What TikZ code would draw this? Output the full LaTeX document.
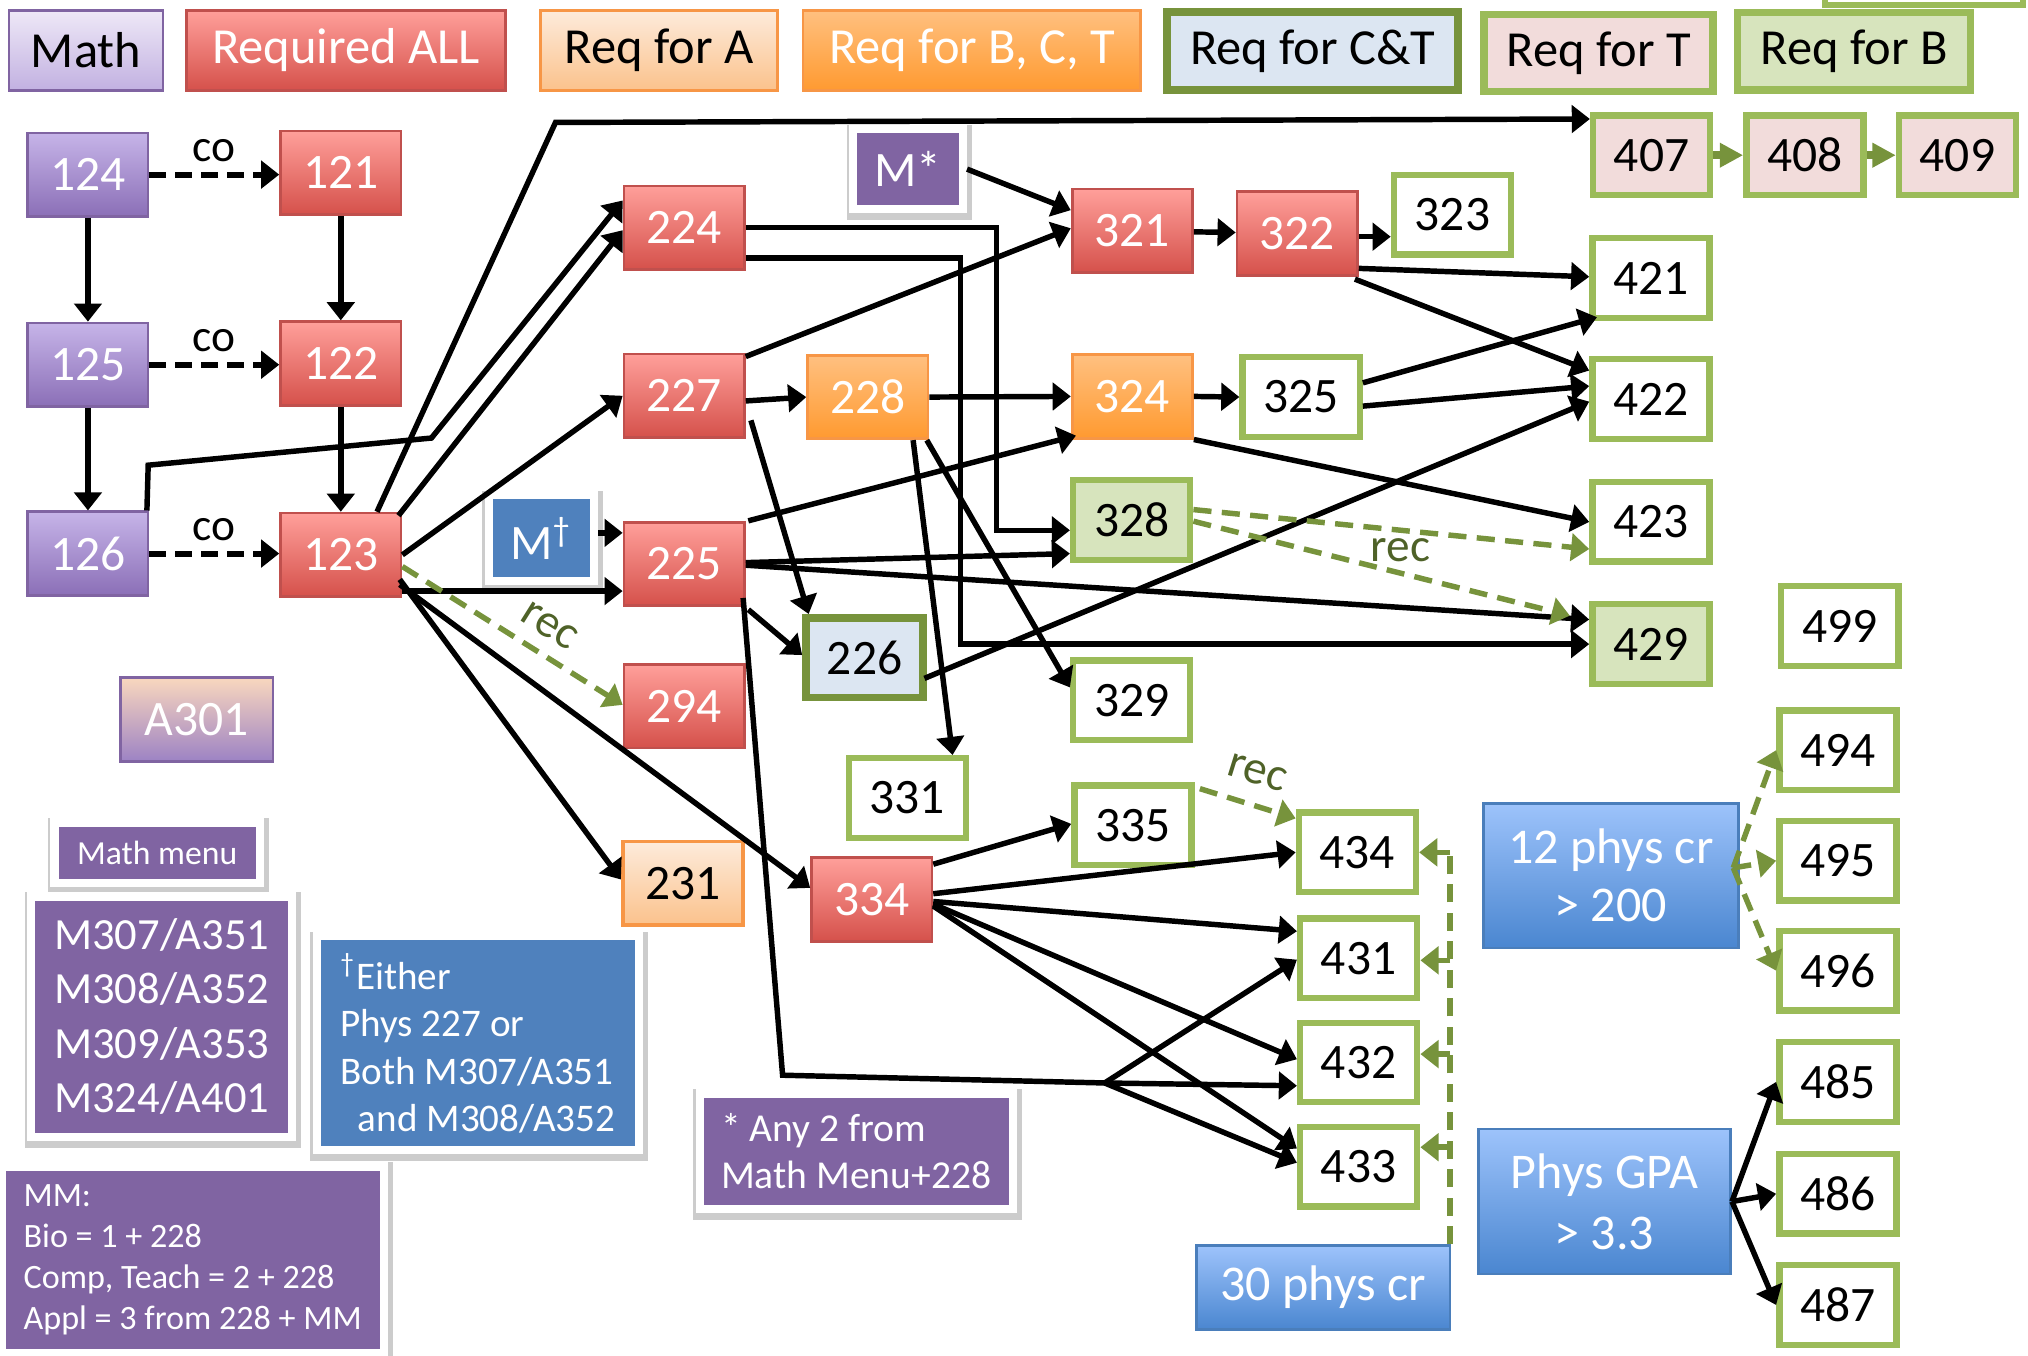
\documentclass[tikz,border=0pt]{standalone}
\usepackage{fontspec}
\setmainfont{Carlito}
\usetikzlibrary{arrows.meta,calc}

\definecolor{redtop}{HTML}{FF9F9A}
\definecolor{redbot}{HTML}{D5514B}
\definecolor{redline}{HTML}{C0504D}
\definecolor{purtop}{HTML}{C6B4E8}
\definecolor{purbot}{HTML}{8B6FB7}
\definecolor{purline}{HTML}{8064A2}
\definecolor{lavtop}{HTML}{EEE8F7}
\definecolor{lavbot}{HTML}{C2B1E1}
\definecolor{peachtop}{HTML}{FDEBDB}
\definecolor{peachbot}{HTML}{FBC28C}
\definecolor{orgtop}{HTML}{FFC080}
\definecolor{orgbot}{HTML}{FF9A30}
\definecolor{orgline}{HTML}{F79646}
\definecolor{grn}{HTML}{9BBB59}
\definecolor{dkgrn}{HTML}{77933C}
\definecolor{recgrn}{HTML}{4F6228}
\definecolor{ltgrn}{HTML}{D7E4BD}
\definecolor{ltblue}{HTML}{DCE6F2}
\definecolor{tpink}{HTML}{F2DCDB}
\definecolor{bluetop}{HTML}{9DC3FB}
\definecolor{bluebot}{HTML}{4A86D0}
\definecolor{blueline}{HTML}{4A7EBB}
\definecolor{infoblue}{HTML}{4F81BD}
\definecolor{infopurple}{HTML}{8064A2}
\definecolor{atop}{HTML}{F9D7BE}
\definecolor{abot}{HTML}{9C82C4}

\begin{document}
\begin{tikzpicture}[x=0.01cm, y=-0.01cm,
  course/.style={minimum width=0.93cm, minimum height=0.645cm, inner sep=0pt,
    font=\fontsize{10.9}{13}\selectfont},
  reqall/.style={course, draw=redline, line width=0.6pt, top color=redtop, bottom color=redbot, text=white},
  mathc/.style={course, draw=purline, line width=0.6pt, top color=purtop, bottom color=purbot, text=white},
  reqa/.style={course, draw=orgline, line width=0.8pt, top color=peachtop, bottom color=peachbot},
  reqbct/.style={course, draw=orgline, line width=0.6pt, top color=orgtop, bottom color=orgbot, text=white},
  elect/.style={course, minimum width=0.905cm, minimum height=0.615cm, draw=grn, line width=1.4pt, fill=white},
  reqct/.style={elect, draw=dkgrn, line width=1.7pt, fill=ltblue},
  reqt/.style={elect, fill=tpink},
  reqb/.style={elect, fill=ltgrn},
  legbox/.style={minimum height=0.62cm, inner sep=0pt, font=\fontsize{11.1}{13}\selectfont},
  goal/.style={draw=blueline, line width=0.6pt, top color=bluetop, bottom color=bluebot, text=white,
    align=center, inner sep=0pt, font=\fontsize{11}{12.8}\selectfont},
  infobox/.style={draw=white, line width=1.8pt, text=white, inner sep=0pt,
    preaction={draw=black!20, line width=3.4pt, transform canvas={xshift=0.3pt, yshift=-0.7pt}}},
  arr/.style={-{Triangle[length=1.4mm,width=2.1mm]}, line width=1.2pt},
  coarr/.style={arr, line width=1.3pt, dash pattern=on 1.3mm off 0.7mm},
  recline/.style={dkgrn, line width=1.2pt, dash pattern=on 1.4mm off 0.8mm},
  recarr/.style={recline, -{Triangle[length=1.4mm,width=2.1mm]}},
  fatarr/.style={dkgrn, line width=1.8pt, -{Triangle[length=1.8mm,width=1.8mm]}},
  colabel/.style={font=\fontsize{10}{12}\selectfont, inner sep=1pt, above=1.2pt},
  reclabel/.style={text=recgrn, font=\fontsize{10.4}{12}\selectfont, inner sep=2pt}]
\useasboundingbox (0,0) rectangle (1568,1048);

% Legend
\node[legbox, draw=purline, line width=0.6pt, top color=lavtop, bottom color=lavbot, minimum width=1.19cm] (lgMath) at (66.5,39) {Math};
\node[legbox, draw=redline, line width=0.6pt, top color=redtop, bottom color=redbot, text=white, minimum width=2.47cm] (lgAll) at (267.5,39) {Required ALL};
\node[legbox, draw=orgline, line width=0.8pt, top color=peachtop, bottom color=peachbot, minimum width=1.83cm] (lgA) at (509.5,39) {Req for A};
\node[legbox, draw=orgline, line width=0.6pt, top color=orgtop, bottom color=orgbot, text=white, minimum width=2.61cm] (lgBCT) at (751.5,39) {Req for B, C, T};
\node[legbox, draw=dkgrn, line width=1.8pt, fill=ltblue, minimum width=2.25cm, minimum height=0.6cm] (lgCT) at (1015,39.5) {Req for C\&T};
\node[legbox, draw=grn, line width=1.6pt, fill=tpink, minimum width=1.77cm, minimum height=0.59cm] (lgT) at (1236,41) {Req for T};
\node[legbox, draw=grn, line width=1.6pt, fill=ltgrn, minimum width=1.8cm, minimum height=0.6cm] (lgB) at (1433.5,39.5) {Req for B};
\draw[grn, line width=1.4pt] (1411,-30) |- (1564,4) -- (1564,-30);

% Math and first year
\node[mathc] (c124) at (68,135) {124};
\node[mathc] (c125) at (68,282) {125};
\node[mathc] (c126) at (68,428) {126};
\node[reqall] (c121) at (263.5,133.5) {121};
\node[reqall] (c122) at (263.5,281) {122};
\node[reqall] (c123) at (263.5,429) {123};
\node[mathc, top color=atop, bottom color=abot, minimum width=1.18cm, minimum height=0.65cm] (a301) at (152,556.5) {A301};

% 200 level
\node[reqall] (c224) at (529,176) {224};
\node[reqall] (c227) at (529,306) {227};
\node[reqall] (c225) at (529,436) {225};
\node[reqall] (c294) at (529,546) {294};
\node[reqa] (c231) at (528,683) {231};
\node[reqbct] (c228) at (671,307) {228};
\node[reqct] (c226) at (668.5,508.5) {226};

% 300 level
\node[reqall] (c321) at (875.5,178.5) {321};
\node[reqall] (c322) at (1003,180.5) {322};
\node[elect] (c323) at (1123,166) {323};
\node[reqbct] (c324) at (875.5,306.5) {324};
\node[elect] (c325) at (1006,307) {325};
\node[reqb] (c328) at (875,402) {328};
\node[elect] (c329) at (875,541.5) {329};
\node[elect] (c331) at (701.5,617) {331};
\node[elect] (c335) at (876,638) {335};
\node[reqall] (c334) at (674,695.5) {334};

% 400 level
\node[reqt] (c407) at (1277,120) {407};
\node[reqt] (c408) at (1395.5,120) {408};
\node[reqt] (c409) at (1513.5,120) {409};
\node[elect] (c421) at (1276.5,215) {421};
\node[elect] (c422) at (1276.5,308.5) {422};
\node[elect] (c423) at (1276.5,403.5) {423};
\node[reqb] (c429) at (1276.5,498) {429};
\node[elect] (c499) at (1422.5,484) {499};
\node[elect] (c434) at (1049.5,659) {434};
\node[elect] (c431) at (1050.5,741) {431};
\node[elect] (c432) at (1050.5,821.5) {432};
\node[elect] (c433) at (1050.5,902) {433};
\foreach \n/\y in {494/580,495/665.5,496/750.5,485/836.5,486/923,487/1009}
  \node[elect] (c\n) at (1421,\y) {\n};

% Credit boxes
\node[goal, minimum width=1.97cm, minimum height=1.12cm] (b12) at (1245.5,677) {12 phys cr\\> 200};
\node[goal, minimum width=1.95cm, minimum height=1.12cm, font=\fontsize{11}{13.4}\selectfont] (bGPA) at (1240.5,929) {Phys GPA\\> 3.3};
\node[goal, minimum width=1.96cm, minimum height=0.65cm] (b30) at (1023,995.5) {30 phys cr};

% Notes
\node[infobox, fill=infopurple, minimum width=0.85cm, minimum height=0.615cm, font=\fontsize{10.9}{13}\selectfont] (mstar) at (702,130.75) {M*};
\node[infobox, fill=infoblue, minimum width=0.81cm, minimum height=0.66cm, font=\fontsize{10.9}{13}\selectfont] (mdag) at (418.5,416) {M\textsuperscript{\textdagger}};
\node[infobox, fill=infopurple, minimum width=1.585cm, minimum height=0.47cm, font=\fontsize{7.4}{9}\selectfont] (mmenu) at (121.5,659.5) {Math menu};
\node[infobox, fill=infopurple, minimum width=2.02cm, minimum height=1.855cm, align=center, font=\fontsize{9.8}{12}\selectfont] (mlist) at (125,786) {M307/A351\\M308/A352\\M309/A353\\M324/A401};
\node[infobox, fill=infoblue, minimum width=2.49cm, minimum height=1.65cm, align=left, font=\fontsize{8.6}{10.4}\selectfont] (either) at (369.5,806.5)
  {\textsuperscript{\textdagger}Either\\Phys 227 or\\Both M307/A351\\\hspace*{0.45em}and M308/A352};
\node[infobox, fill=infopurple, minimum width=2.42cm, minimum height=0.89cm, align=left, font=\fontsize{8.7}{10.4}\selectfont] (anytwo) at (662,890)
  {* Any 2 from\\Math Menu+228};
\node[infobox, fill=infopurple, minimum width=2.95cm, minimum height=1.44cm, align=left, font=\fontsize{7.5}{9}\selectfont] (mmbox) at (149,974)
  {MM:\\Bio = 1 + 228\\Comp, Teach = 2 + 228\\Appl = 3 from 228 + MM};

% Corequisites and math chain
\foreach \m/\r in {124/121,125/122,126/123}
  \draw[coarr] (c\m) -- (c\m -| c\r.west) node[colabel, midway] {co};
\draw[arr] (c124) -- (c125);
\draw[arr] (c125) -- (c126);
\draw[arr] (c121) -- (c122);
\draw[arr] (c122) -- (c123);

% Out of 123 and 126
\draw[arr] ($(c126.north east)+(-2,0)$) -- ++(1,-35) -- ++(219,-21) -- ($(c224.west)+(0,-21)$);
\draw[arr] ($(c123.north east)+(-3,3)$) -- ($(c224.west)+(0,2)$);
\draw[arr] ($(c123.north)+(28,0)$) -- ++(138,-301) -- ($(c407.west)+(0,-28)$);
\draw[arr] (c123.east) -- (c227.west);
\draw[arr] ($(c123.east)+(0,28)$) -- ($(c225.west)+(0,21)$);
\draw[recarr] ($(c123.east)+(0,9)$) -- ($(c294.west)+(0,-1)$) node[reclabel, pos=0.6, sloped, above=1pt] {rec};
\draw[arr] ($(c123.east)+(-2,19)$) -- ($(c231.west)+(0,-3)$);
\draw[arr] ($(c123.east)+(-2,23)$) -- ($(c334.west)+(0,-9)$);
\draw[arr] ($(mdag.east)+(0,-4)$) -- ($(c225.west)+(0,-24)$);

% Out of 224, 227, 228
\draw[arr] (c224.east) -- ++(194,0) |- ($(c328.west)+(0,8)$);
\draw[arr] ($(c224.east)+(0,23.5)$) -- ++(166,0) |- (c429.west);
\draw[arr] ($(c227.north east)+(0,3)$) -- ($(c321.west)+(0,-2)$);
\draw[arr] ($(c227.east)+(0,4)$) -- (c228.west);
\draw[arr] ($(c227.east)+(4,19)$) -- ($(c226.north west)+(5,0)$);
\draw[arr] (c228.east) -- (c324.west);
\draw[arr] ($(c228.south)+(35,0)$) -- ($(c331.north)+(35,0)$);
\draw[arr] ($(c228.south east)+(-2,0)$) -- ($(c329.west)+(0,-10)$);

% Out of 225
\draw[arr] ($(c225.north east)+(2,0)$) -- ($(c324.south west)+(4,-3)$);
\draw[arr] ($(c225.east)+(0,-1)$) -- ($(c328.west)+(0,26)$);
\draw[arr] ($(c225.east)+(0,1)$) -- ($(c429.west)+(0,-19)$);
\draw[arr] ($(c225.south east)+(2,2)$) -- ($(c226.west)+(0,-2)$);
\draw[arr] ($(c225.south east)+(-2,-7)$) -- ++(30.5,369) -- ++(249,6) coordinate (jn) -- ($(c432.west)+(0,18)$);
\draw[arr] (jn) -- ($(c431.west)+(0,1)$);
\draw[arr] (jn) -- ($(c433.west)+(0,-3)$);

% 300 level links
\draw[arr] (mstar.east) -- ($(c321.west)+(0,-16)$);
\draw[arr] (c321) -- (c322);
\draw[arr] ($(c322.east)+(0,2.5)$) -- ($(c323.west)+(0,17)$);
\draw[arr] ($(c322.east)+(0,27)$) -- ($(c421.west)+(0,-1)$);
\draw[arr] ($(c322.south east)+(-3,2)$) -- ($(c422.west)+(0,-22)$);
\draw[arr] (c324.east) -- (c325.west);
\draw[arr] (c324.south east) -- (c423.west);
\draw[arr] ($(c325.east)+(0,-11)$) -- ($(c421.south west)+(6,-3)$);
\draw[arr] ($(c325.east)+(0,7)$) -- ($(c422.west)+(0,-10)$);
\draw[arr] ($(c226.east)+(-2,16)$) -- ($(c422.west)+(0,2)$);
\draw[recarr] ($(c328.east)+(0,-8)$) -- ($(c423.west)+(0,21)$);
\draw[recarr] ($(c328.east)+(0,1)$) -- ($(c429.west)+(-15,-22)$) node[reclabel, pos=0.55, above] {rec};

% Out of 334 and 335
\draw[arr] ($(c334.north east)+(0,6)$) -- ($(c335.west)+(0,-1)$);
\draw[arr] ($(c334.east)+(0,-4.5)$) -- (c434.west);
\draw[arr] ($(c334.east)+(0,1.5)$) -- ($(c431.west)+(0,-21)$);
\draw[arr] ($(c334.east)+(0,3.5)$) -- ($(c432.west)+(0,-2.5)$);
\draw[arr] ($(c334.east)+(0,5)$) -- ($(c433.west)+(0,-14)$);
\draw[recarr] ($(c335.north east)+(4,5)$) -- ($(c434.north west)+(0,7)$) node[reclabel, midway, sloped, above=2pt] {rec};

% 30 credits
\draw[recline] ($(b30.north east)+(-1,0)$) coordinate (v30) -- ++(0,-304);
\draw[recarr] (c434.east -| v30) -- (c434.east);
\draw[recarr] ($(c431.east -| v30)+(0,1.5)$) -- ($(c431.east)+(0,1.5)$);
\draw[recarr] ($(c432.east -| v30)+(0,-6.5)$) -- ($(c432.east)+(0,-6.5)$);
\draw[recarr] ($(c433.east -| v30)+(0,-15)$) -- ($(c433.east)+(0,-15)$);

% Senior options
\coordinate (o12) at ($(b12.east)+(-5,-6)$);
\foreach \t in {494,495,496}
  \draw[recarr] (o12) -- (c\t.west);
\foreach \t in {485,486,487}
  \draw[arr] (bGPA.east) -- (c\t.west);
\draw[fatarr] (c407) -- (c408);
\draw[fatarr] (c408) -- (c409);
\end{tikzpicture}
\end{document}
